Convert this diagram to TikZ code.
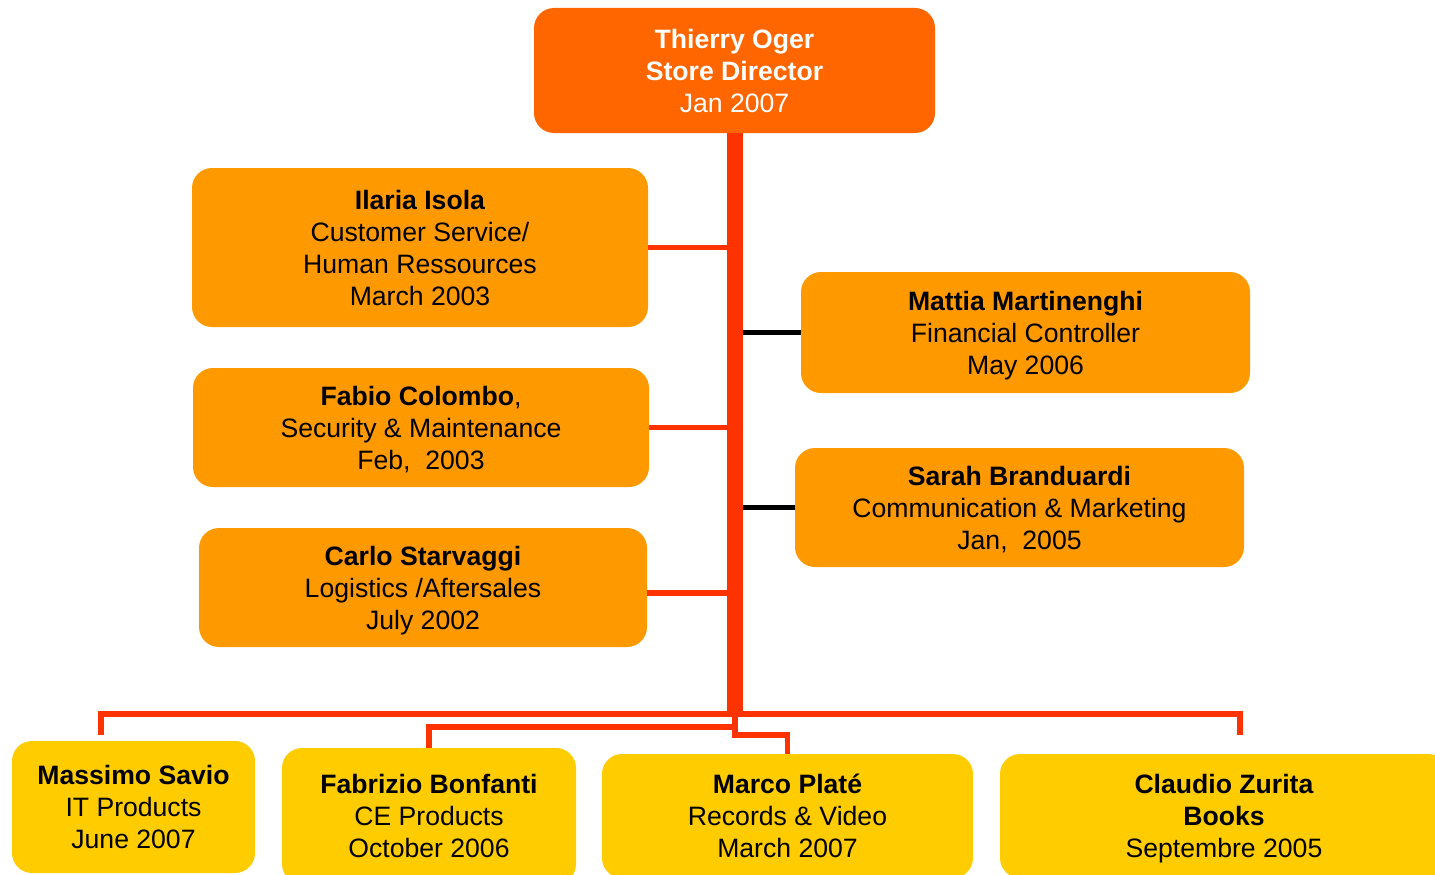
\documentclass[tikz,border=0pt]{standalone}
\usepackage{fontspec}
\setmainfont{Liberation Sans}
\usetikzlibrary{positioning, calc}
\definecolor{dirorange}{HTML}{FF6600}
\definecolor{mgrorange}{HTML}{FF9900}
\definecolor{deptyellow}{HTML}{FFCC00}
\definecolor{linkred}{HTML}{FF3300}

\begin{document}
\begin{tikzpicture}[
  x=1pt, y=-1pt,
  box/.style={rounded corners=20pt, inner sep=0pt, align=center, text depth=0pt, font=\fontsize{26.6}{32}\selectfont},
  link/.style={line width=5.5pt, draw=linkred},
  blink/.style={line width=5.5pt, draw=black},
  trunk/.style={line width=16pt, draw=linkred}
]
  \useasboundingbox (0,0) rectangle (1435,875);
  \clip (0,0) rectangle (1435,875);

  \node[box, fill=dirorange, text=white, minimum width=401pt, minimum height=125pt] (top) at (734.5,70.5)
    {\textbf{Thierry Oger}\\\textbf{Store Director}\\Jan 2007};

  \node[box, fill=mgrorange, minimum width=456pt, minimum height=159pt] (ilaria) at (420,247.5)
    {\textbf{Ilaria Isola}\\Customer Service/\\Human Ressources\\March 2003};
  \node[box, fill=mgrorange, minimum width=456pt, minimum height=119pt] (fabio) at (421,427.5)
    {\textbf{Fabio Colombo},\\Security \& Maintenance\\Feb,\ \ 2003};
  \node[box, fill=mgrorange, minimum width=448pt, minimum height=119pt] (carlo) at (423,587.5)
    {\textbf{Carlo Starvaggi}\\Logistics /Aftersales\\July 2002};
  \node[box, fill=mgrorange, minimum width=449pt, minimum height=121pt] (mattia) at (1025.5,332.5)
    {\textbf{Mattia Martinenghi}\\Financial Controller\\May 2006};
  \node[box, fill=mgrorange, minimum width=449pt, minimum height=119pt] (sarah) at (1019.5,507.5)
    {\textbf{Sarah Branduardi}\\Communication \& Marketing\\Jan,\ \ 2005};

  \node[box, fill=deptyellow, minimum width=243pt, minimum height=132pt] (massimo) at (133.5,807)
    {\textbf{Massimo Savio}\\IT Products\\June 2007};
  \node[box, fill=deptyellow, minimum width=294pt, minimum height=136pt] (fabrizio) at (429,816)
    {\textbf{Fabrizio Bonfanti}\\CE Products\\October 2006};
  \node[box, fill=deptyellow, minimum width=371pt, minimum height=124pt] (marco) at (787.5,816)
    {\textbf{Marco Platé}\\Records \& Video\\March 2007};
  \node[box, fill=deptyellow, minimum width=448pt, minimum height=124pt] (claudio) at (1224,816)
    {\textbf{Claudio Zurita}\\\textbf{Books}\\Septembre 2005};

  \coordinate (hub) at (735,714);
  \coordinate (hubb) at (735,727);
  \coordinate (mdrop) at (101,735);
  \coordinate (cdrop) at (1240,735);

  \draw[link] (ilaria.east) -- (ilaria.east -| hub);
  \draw[link] (fabio.east) -- (fabio.east -| hub);
  \draw[link] ([yshift=-5.5pt]carlo.east) -- ([yshift=-5.5pt]carlo.east -| hub);
  \draw[blink] (mattia.west -| hub) -- (mattia.west);
  \draw[blink] (sarah.west -| hub) -- (sarah.west);

  \draw[link] (mdrop) |- (hub) -| (cdrop);
  \draw[link] (hubb) -| (fabrizio.north);
  \draw[link] (hub) -- ++(0,21) -| (marco.north);
  \draw[trunk] (top.south) -- (top.south |- hub);
\end{tikzpicture}
\end{document}
